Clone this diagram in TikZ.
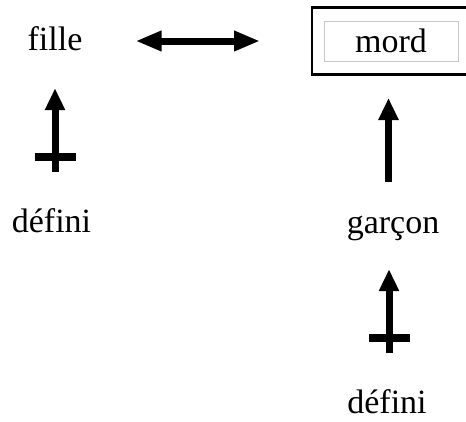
\documentclass[tikz,border=0pt]{standalone}
\usepackage{fontspec}
\setmainfont{Liberation Serif}
\usetikzlibrary{arrows.meta,decorations.markings}

\tikzset{
    word/.style={font=\fontsize{34}{40}\selectfont, inner sep=0pt, text height=24pt, text depth=0pt, anchor=base},
    thick arrow/.style={line width=7pt, -{Triangle[length=22pt,width=19pt]}},
    crossed/.style={postaction={decorate, decoration={markings,
        mark=at position #1 with {\draw[-, line width=8pt, shorten <=0pt, shorten >=0pt] (0,-20.5pt) -- (0,20.5pt);}}}}
}

\begin{document}
\begin{tikzpicture}[x=1pt, y=-1pt]
    \useasboundingbox (0,0) rectangle (466,421);

    \node[word] (fille) at (55, 50){fille};
    \node[word] (def1) at (51.5, 232){défini};
    \node[word] (garcon) at (393, 233){garçon};
    \node[word] (def2) at (387, 413){défini};

    \node[draw=black!22, line width=0.8pt, minimum width=134pt, minimum height=40pt, inner sep=0pt,
          font=\fontsize{34}{40}\selectfont] (mord) at (391, 41){mord};
    \node[draw, line width=2.6pt, outer sep=0pt, minimum width=180pt, minimum height=67pt] (frame) at (402, 41){};

    \draw[line width=7pt, {Triangle[length=26pt,width=19pt]}-{Triangle[length=26pt,width=19pt]}, shorten <= 53pt, shorten >= 52pt]
        (frame.west -| fille.east) -- (frame.west);

    \draw[thick arrow, crossed=51pt, shorten <= 36pt, shorten >= 38pt] (def1.north -| fille.south) -- (fille.south);
    \draw[thick arrow, shorten <= 27pt, shorten >= 23.5pt] ([xshift=-4.5pt]garcon.north) -- ([xshift=-4.5pt]garcon.north |- frame.south);
    \draw[thick arrow, crossed=51pt, shorten <= 36pt, shorten >= 36pt] ([xshift=2pt]def2.north) -- ([xshift=2pt]def2.north |- garcon.south);
\end{tikzpicture}
\end{document}
